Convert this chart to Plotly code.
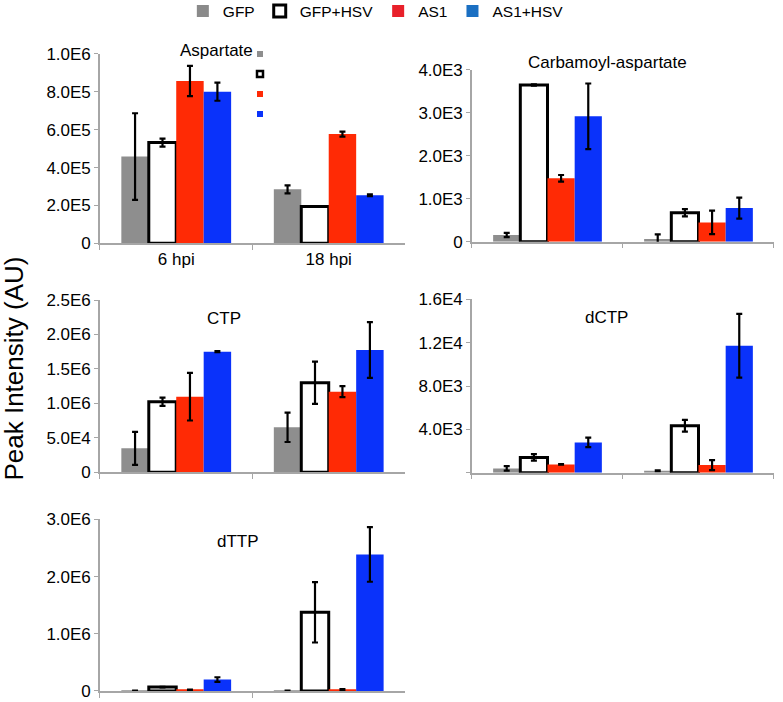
import plotly.graph_objects as go

# categories and groups
hpi = ["6 hpi", "18 hpi"]
groups = ["GFP", "GFP+HSV", "AS1", "AS1+HSV"]

# Aspartate
asp_mean = {"GFP": [458e3, 285e3], "GFP+HSV": [532e3, 195e3], "AS1": [857e3, 577e3], "AS1+HSV": [801e3, 254e3]}
asp_err = {"GFP": [229e3, 21e3], "GFP+HSV": [21e3, 0], "AS1": [80e3, 13e3], "AS1+HSV": [48e3, 5e3]}

# Carbamoyl-aspartate
cas_mean = {"GFP": [155, 62], "GFP+HSV": [3650, 676], "AS1": [1476, 450], "AS1+HSV": [2920, 784]}
cas_err = {"GFP": [50, 110], "GFP+HSV": [15, 85], "AS1": [78, 272], "AS1+HSV": [765, 245]}

# CTP
ctp_mean = {"GFP": [348e3, 653e3], "GFP+HSV": [1025e3, 1300e3], "AS1": [1098e3, 1170e3], "AS1+HSV": [1750e3, 1775e3]}
ctp_err = {"GFP": [240e3, 213e3], "GFP+HSV": [60e3, 307e3], "AS1": [346e3, 80e3], "AS1+HSV": [8e3, 404e3]}

# dCTP
dctp_mean = {"GFP": [400, 185], "GFP+HSV": [1415, 4338], "AS1": [770, 708], "AS1+HSV": [2800, 11723]}
dctp_err = {"GFP": [200, 40], "GFP+HSV": [300, 540], "AS1": [30, 460], "AS1+HSV": [430, 2940]}

# dTTP
dttp_mean = {"GFP": [8e3, 5e3], "GFP+HSV": [69e3, 1374e3], "AS1": [12e3, 25e3], "AS1+HSV": [200e3, 2387e3]}
dttp_err = {"GFP": [0, 0], "GFP+HSV": [5e3, 527e3], "AS1": [12e3, 10e3], "AS1+HSV": [40e3, 478e3]}

asp_ticks = [0, 2e5, 4e5, 6e5, 8e5, 1e6]
asp_text = ["0", "2.0E5", "4.0E5", "6.0E5", "8.0E5", "1.0E6"]
cas_ticks = [0, 1000, 2000, 3000, 4000]
cas_text = ["0", "1.0E3", "2.0E3", "3.0E3", "4.0E3"]
ctp_ticks = [0, 5e5, 1e6, 1.5e6, 2e6, 2.5e6]
ctp_text = ["0", "5.0E4", "1.0E6", "1.5E6", "2.0E6", "2.5E6"]
dctp_ticks = [0, 4000, 8000, 12000, 16000]
dctp_text = ["", "4.0E3", "8.0E3", "1.2E4", "1.6E4"]
dttp_ticks = [0, 1e6, 2e6, 3e6]
dttp_text = ["0", "1.0E6", "2.0E6", "3.0E6"]

bar_fill = {"GFP": "#8e8e8e", "GFP+HSV": "white", "AS1": "#ff2a05", "AS1+HSV": "#0a32fa"}
bar_line = {"GFP": 0, "GFP+HSV": 3, "AS1": 0, "AS1+HSV": 0}
legend_fill = {"GFP": "#8a8a8a", "GFP+HSV": "white", "AS1": "#e8202a", "AS1+HSV": "#1a6fc2"}

FONT = "Liberation Sans, Arial, sans-serif"
AXC = "#a6a6a6"

panels = [
    ("Aspartate", asp_mean, asp_err, asp_ticks, asp_text, [0.1277, 0.5172], [0.6534, 0.9231]),
    ("Carbamoyl-aspartate", cas_mean, cas_err, cas_ticks, cas_text, [0.6028, 0.9885], [0.6557, 0.9003]),
    ("CTP", ctp_mean, ctp_err, ctp_ticks, ctp_text, [0.1277, 0.5172], [0.3272, 0.5726]),
    ("dCTP", dctp_mean, dctp_err, dctp_ticks, dctp_text, [0.6028, 0.9885], [0.3266, 0.5736]),
    ("dTTP", dttp_mean, dttp_err, dttp_ticks, dttp_text, [0.1277, 0.5172], [0.0157, 0.2602]),
]

fig = go.Figure()
layout = {}
for i, (name, mean, err, tv, tt, xd, yd) in enumerate(panels):
    n = "" if i == 0 else str(i + 1)
    for g in groups:
        fig.add_trace(go.Bar(
            x=hpi, y=mean[g], name=g, showlegend=False,
            xaxis="x" + n, yaxis="y" + n,
            marker=dict(color=bar_fill[g], line=dict(color="black", width=bar_line[g])),
            error_y=dict(type="data", array=err[g], visible=True, color="black", thickness=2.2, width=3),
        ))
    layout["xaxis" + n] = dict(
        domain=xd, anchor="y" + n, type="category", showline=True, linecolor=AXC, linewidth=1.5,
        ticks="outside", tickson="boundaries", ticklen=5, tickcolor=AXC,
        showticklabels=(i == 0), tickfont=dict(size=17, color="black"), showgrid=False,
    )
    layout["yaxis" + n] = dict(
        domain=yd, anchor="x" + n, range=[0, tv[-1]], tickvals=tv, ticktext=tt,
        showline=True, linecolor=AXC, linewidth=1.5, ticks="outside", ticklen=4, tickcolor=AXC,
        tickfont=dict(size=17, color="black"), showgrid=False, zeroline=False,
        ticklabeloverflow="allow",
    )

# legend entries, on a hidden axis so they don't squeeze the first panel's groups
for g in groups:
    fig.add_trace(go.Bar(
        x=[None], y=[None], name=g, xaxis="x6", yaxis="y6",
        marker=dict(color=legend_fill[g], line=dict(color="black", width=bar_line[g])),
    ))
layout["xaxis6"] = dict(domain=[0.6, 0.9], anchor="y6", visible=False)
layout["yaxis6"] = dict(domain=[0.0, 0.2], anchor="x6", visible=False)

titles = [
    ("Aspartate", 0.2759, 0.9274),
    ("Carbamoyl-aspartate", 0.7765, 0.9103),
    ("CTP", 0.2861, 0.5470),
    ("dCTP", 0.7752, 0.5484),
    ("dTTP", 0.3040, 0.2293),
]
annotations = [dict(text=t, x=x, y=y, xref="paper", yref="paper", showarrow=False,
                    xanchor="center", yanchor="middle",
                    font=dict(size=17, color="black")) for t, x, y in titles]
annotations.append(dict(text="Peak Intensity (AU)", x=0.0179, y=0.475, xref="paper", yref="paper",
                        showarrow=False, textangle=-90, xanchor="center", yanchor="middle",
                        font=dict(size=26, color="black")))

# small leftover legend keys beside the Aspartate title
shapes = []
key_y = [54, 74, 94, 114]
for g, yy in zip(groups, key_y):
    shapes.append(dict(
        type="rect", xref="paper", yref="paper",
        x0=257 / 783, x1=263 / 783,
        y0=1 - (yy + 3) / 702, y1=1 - (yy - 3) / 702,
        fillcolor=bar_fill[g], line=dict(color="black", width=2.5 if g == "GFP+HSV" else 0),
    ))

fig.update_layout(
    width=783, height=702, margin=dict(l=0, r=0, t=0, b=0, autoexpand=False),
    paper_bgcolor="white", plot_bgcolor="white",
    font=dict(family=FONT, color="black"),
    barmode="group", bargap=0.28, bargroupgap=0,
    showlegend=True,
    legend=dict(orientation="h", x=0.48, xanchor="center", y=1.008, yanchor="top",
                font=dict(size=15.5), itemwidth=30, traceorder="normal"),
    annotations=annotations, shapes=shapes,
    **layout,
)

fig.write_html("out.html", config={"displayModeBar": False},
               post_script="document.body.style.margin='0';")
